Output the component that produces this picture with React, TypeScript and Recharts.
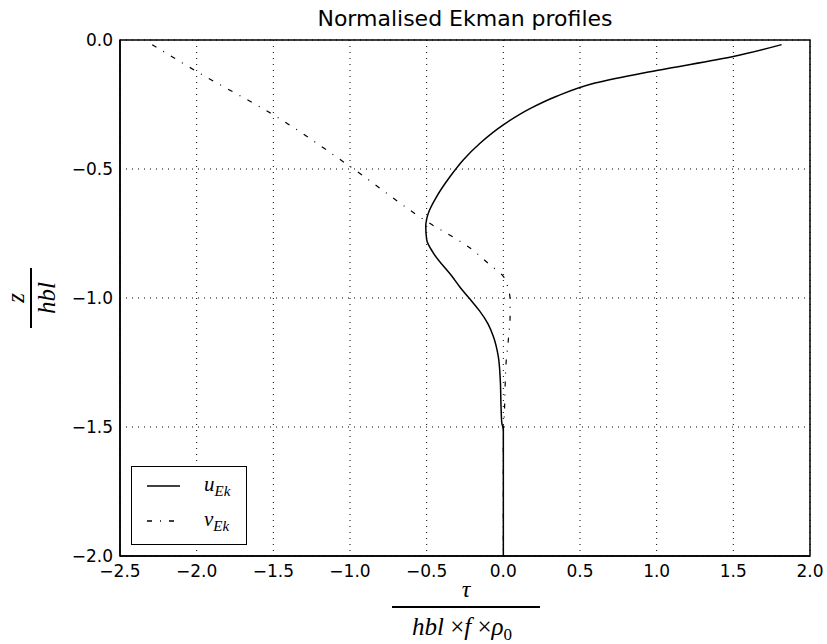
import { ScatterChart, Scatter, XAxis, YAxis, CartesianGrid, Legend } from "recharts";

// u_Ek profile, read top to bottom
const uTau = [1.815, 1.5, 1.0, 0.598, 0.348, 0.174, 0.007, -0.152, -0.26, -0.347, -0.434, -0.489, -0.506, -0.5, -0.456, -0.335, -0.28, -0.215, -0.155, -0.1, -0.065, -0.033, -0.02, -0.015, -0.01, 0, 0];
const uZ = [-0.018, -0.064, -0.118, -0.167, -0.218, -0.266, -0.326, -0.4, -0.464, -0.529, -0.606, -0.671, -0.722, -0.774, -0.826, -0.916, -0.96, -1.006, -1.05, -1.1, -1.149, -1.226, -1.317, -1.42, -1.484, -1.51, -2.0];

// v_Ek profile
const vTau = [-2.29, -2.0, -1.5, -1.0, -0.5, -0.217, -0.09, 0.0, 0.03, 0.044, 0.044, 0.033, 0.018, 0.011, 0.005, 0, 0];
const vZ = [-0.018, -0.122, -0.29, -0.49, -0.703, -0.806, -0.87, -0.916, -0.96, -1.006, -1.07, -1.16, -1.25, -1.355, -1.47, -1.51, -2.0];

const xTicks = [-2.5, -2.0, -1.5, -1.0, -0.5, 0.0, 0.5, 1.0, 1.5, 2.0];
const yTicks = [0.0, -0.5, -1.0, -1.5, -2.0];

const uData = uTau.map((x, i) => ({ x, z: uZ[i] }));
const vData = vTau.map((x, i) => ({ x, z: vZ[i] }));

const DASHDOT = "5 8 1 8";
const fmt = (v: number) => (v === 0 ? "0.0" : v.toFixed(1).replace("-", "\u2212"));
const math = "'Liberation Serif', 'DejaVu Serif', serif";
const X_DOMAIN: [number, number] = [-2.5, 2.0];
const Y_DOMAIN: [number, number] = [-2.0, 0.0];

const noDot = () => <g />;
const noLabel = () => <g />;

function LegendBox() {
  return (
    <div style={{ width: 114, height: 77, border: "1.5px solid #000", background: "#fff" }}>
      <svg width={114} height={77}>
        <line x1={15} y1={19} x2={48} y2={19} stroke="#000" strokeWidth={1.5} />
        <text x={72} y={24} fontFamily={math} fontStyle="italic" fontSize={21}>
          u<tspan fontSize={15} dy={5}>Ek</tspan>
        </text>
        <line x1={15} y1={54} x2={48} y2={54} stroke="#000" strokeWidth={1.5} strokeDasharray={DASHDOT} />
        <text x={72} y={59} fontFamily={math} fontStyle="italic" fontSize={21}>
          v<tspan fontSize={15} dy={5}>Ek</tspan>
        </text>
      </svg>
    </div>
  );
}

// inward tick marks on all four sides, like the original figure
const innerAxis = { stroke: "#000", strokeWidth: 1 };

export default function App() {
  return (
    <div style={{ position: "absolute", left: 0, top: 0, width: 827, height: 644, background: "#fff", fontFamily: "'DejaVu Sans', sans-serif" }}>
      <ScatterChart width={827} height={644} margin={{ top: 40, right: 17, bottom: 58, left: 60 }}>
        <CartesianGrid stroke="#000" strokeDasharray="1 5" strokeWidth={1} />
        <XAxis
          type="number"
          dataKey="x"
          domain={X_DOMAIN}
          ticks={xTicks}
          tickFormatter={fmt}
          allowDataOverflow
          height={30}
          tickLine={false}
          tickSize={4}
          tickMargin={5}
          axisLine={{ stroke: "#000", strokeWidth: 1.5 }}
          tick={{ fill: "#000", fontSize: 17 }}
        />
        <XAxis xAxisId="bIn" type="number" dataKey="x" domain={X_DOMAIN} ticks={xTicks} allowDataOverflow height={0} mirror tickSize={5} tickLine={innerAxis} axisLine={false} tick={noLabel} />
        <XAxis xAxisId="tIn" orientation="top" type="number" dataKey="x" domain={X_DOMAIN} ticks={xTicks} allowDataOverflow height={0} mirror tickSize={5} tickLine={innerAxis} axisLine={false} tick={noLabel} />
        <YAxis
          type="number"
          dataKey="z"
          domain={Y_DOMAIN}
          ticks={yTicks}
          tickFormatter={fmt}
          allowDataOverflow
          width={60}
          tickLine={false}
          tickSize={4}
          tickMargin={3}
          axisLine={{ stroke: "#000", strokeWidth: 1.5 }}
          tick={{ fill: "#000", fontSize: 17 }}
        />
        <YAxis yAxisId="lIn" type="number" dataKey="z" domain={Y_DOMAIN} ticks={yTicks} allowDataOverflow width={0} mirror tickSize={5} tickLine={innerAxis} axisLine={false} tick={noLabel} />
        <YAxis yAxisId="rIn" orientation="right" type="number" dataKey="z" domain={Y_DOMAIN} ticks={yTicks} allowDataOverflow width={0} mirror tickSize={5} tickLine={innerAxis} axisLine={false} tick={noLabel} />
        <Legend
          layout="horizontal"
          verticalAlign="middle"
          align="center"
          content={() => <LegendBox />}
          wrapperStyle={{ position: "absolute", left: 131, top: 466, width: 117, height: 80 }}
        />
        <Scatter
          name="uEk"
          data={uData}
          line={{ stroke: "#000", strokeWidth: 1.5 }}
          lineType="joint"
          lineJointType="monotoneY"
          shape={noDot}
          isAnimationActive={false}
        />
        <Scatter
          name="vEk"
          data={vData}
          line={{ stroke: "#000", strokeWidth: 1.2, strokeDasharray: DASHDOT }}
          lineType="joint"
          lineJointType="monotoneY"
          shape={noDot}
          isAnimationActive={false}
        />
      </ScatterChart>
      {/* frame, title and math labels */}
      <svg width={827} height={644} style={{ position: "absolute", left: 0, top: 0, pointerEvents: "none" }}>
        <rect x={120} y={40} width={690} height={516} fill="none" stroke="#000" strokeWidth={1.5} />
        <text x={465} y={26} textAnchor="middle" fontSize={22} fontFamily="'DejaVu Sans', sans-serif">
          Normalised Ekman profiles
        </text>
        <text x={466} y={597} textAnchor="middle" fontFamily={math} fontStyle="italic" fontSize={24}>τ</text>
        <line x1={392} y1={607} x2={540} y2={607} stroke="#000" strokeWidth={2} />
        <text x={462} y={635} textAnchor="middle" fontFamily={math} fontSize={25}>
          <tspan fontStyle="italic">hbl</tspan> ×<tspan fontStyle="italic">f</tspan> ×<tspan fontStyle="italic">ρ</tspan>
          <tspan fontSize={17} dy={5}>0</tspan>
        </text>
        <g transform="translate(0,298) rotate(-90)">
          <text x={0} y={24} textAnchor="middle" fontFamily={math} fontStyle="italic" fontSize={25}>z</text>
          <line x1={-30} y1={31} x2={30} y2={31} stroke="#000" strokeWidth={2} />
          <text x={0} y={55} textAnchor="middle" fontFamily={math} fontStyle="italic" fontSize={25}>hbl</text>
        </g>
      </svg>
    </div>
  );
}
